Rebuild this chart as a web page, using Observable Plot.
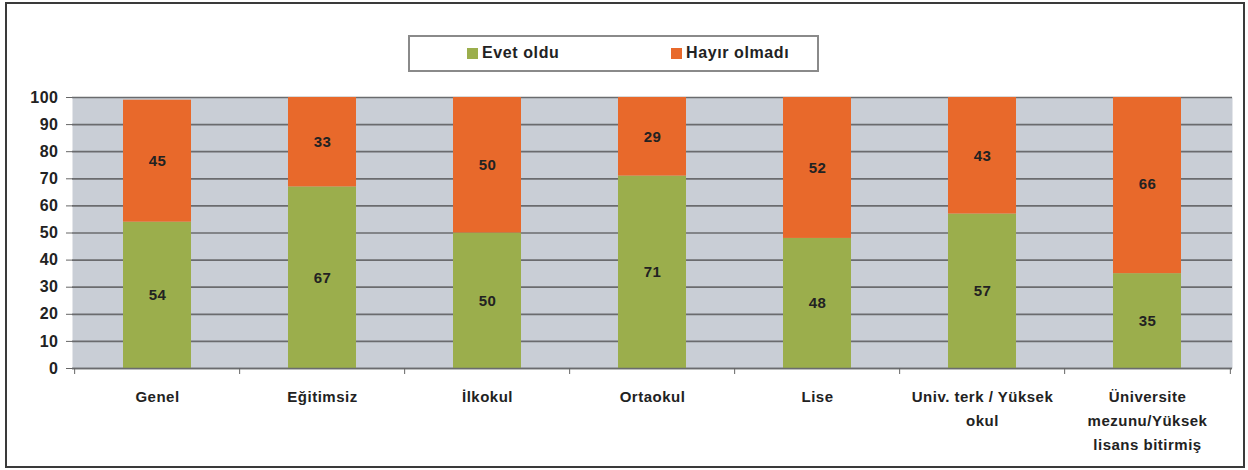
<!DOCTYPE html>
<html>
<head>
<meta charset="utf-8">
<script src="https://cdn.jsdelivr.net/npm/d3@7"></script>
<script src="https://cdn.jsdelivr.net/npm/@observablehq/plot@0.6"></script>
<style>
  html, body { margin: 0; padding: 0; background: #fff; }
  body { width: 1248px; height: 470px; position: relative; overflow: hidden;
         font-family: "Liberation Sans", Arial, sans-serif; }
  #frame { position: absolute; left: 5px; top: 2px; width: 1240px; height: 466px;
           box-sizing: border-box; border: 2px solid #3a3a3a; }
  #legend { position: absolute; left: 408px; top: 35px; width: 411px; height: 37px;
            box-sizing: border-box; border: 2px solid #8a8a8a; background: #fff; }
  .item { position: absolute; top: 7px; display: flex; align-items: center;
          font-size: 16px; font-weight: bold; color: #222; letter-spacing: 0.6px; }
  .sw { width: 11px; height: 11px; margin-right: 4px; }
  #chart { position: absolute; left: 0; top: 80px; }
  #chart svg text { letter-spacing: 0.5px; }
</style>
</head>
<body>
<div id="frame"></div>
<div id="legend"></div>
<div id="chart"></div>
<script>
// Survey answers by education level (percent)
const categories = [
  "Genel",
  "Eğitimsiz",
  "İlkokul",
  "Ortaokul",
  "Lise",
  "Univ. terk / Yüksek\nokul",
  "Üniversite\nmezunu/Yüksek\nlisans bitirmiş"
];
const evetOldu = [54, 67, 50, 71, 48, 57, 35];
const hayirOlmadi = [45, 33, 50, 29, 52, 43, 66];
const seriesNames = ["Evet oldu", "Hayır olmadı"];
const seriesColors = ["#9bae4c", "#e8692b"];
const yTicks = [0, 10, 20, 30, 40, 50, 60, 70, 80, 90, 100];

// Long-format rows for stacking: "Evet" at the bottom, "Hayır" on top
const rows = [];
categories.forEach((c, i) => {
  rows.push({cat: c, series: seriesNames[0], value: evetOldu[i]});
  rows.push({cat: c, series: seriesNames[1], value: hayirOlmadi[i]});
});

// Legend
const legend = document.getElementById("legend");
const legendLeft = [57, 261];
seriesNames.forEach((name, i) => {
  const item = document.createElement("div");
  item.className = "item";
  item.style.left = legendLeft[i] + "px";
  const sw = document.createElement("span");
  sw.className = "sw";
  sw.style.background = seriesColors[i];
  const label = document.createElement("span");
  label.textContent = name;
  item.append(sw, label);
  legend.append(item);
});

const W = 1248, H = 386, ML = 72, MR = 16, MT = 17, MB = 98;
const step = (W - ML - MR) / categories.length; // width of one category band
const gridColor = "#6a6b6e";

const chart = Plot.plot({
  width: W,
  height: H,
  marginLeft: ML,
  marginRight: MR,
  marginTop: MT,
  marginBottom: MB,
  style: {fontFamily: "'Liberation Sans', Arial, sans-serif", color: "#222", background: "transparent"},
  x: {domain: categories, paddingInner: 0.59, paddingOuter: 0.295, label: null},
  y: {domain: [0, 100], label: null},
  color: {domain: seriesNames, range: seriesColors},
  marks: [
    Plot.frame({fill: "#c9ced6", stroke: null}),
    Plot.gridY(yTicks, {stroke: gridColor, strokeOpacity: 1, strokeWidth: 1.7}),
    Plot.barY(rows, Plot.stackY({x: "cat", y: "value", fill: "series", clip: true})),
    Plot.text(rows, Plot.stackY({
      x: "cat", y: "value", text: (d) => String(d.value),
      fontSize: 15, fontWeight: "bold", fill: "#222"
    })),
    Plot.ruleY([0], {stroke: gridColor, strokeWidth: 1.7}),
    // small tick marks on category boundaries below the baseline
    Plot.ruleX(categories, {x: (d) => d, dx: -step / 2, y1: 0, y2: 0, insetBottom: -6, stroke: "#666"}),
    Plot.ruleX(categories.slice(-1), {x: (d) => d, dx: step / 2, y1: 0, y2: 0, insetBottom: -6, stroke: "#666"}),
    Plot.axisY({
      ticks: yTicks, tickSize: 6, tickPadding: 8, stroke: "#666",
      fontSize: 16, fontWeight: "bold", fill: "#222", label: null
    }),
    Plot.axisX({
      tickSize: 0, tickPadding: 16, fontSize: 15, fontWeight: "bold",
      fill: "#222", lineHeight: 1.6, label: null
    })
  ]
});

document.getElementById("chart").append(chart);
</script>
</body>
</html>
